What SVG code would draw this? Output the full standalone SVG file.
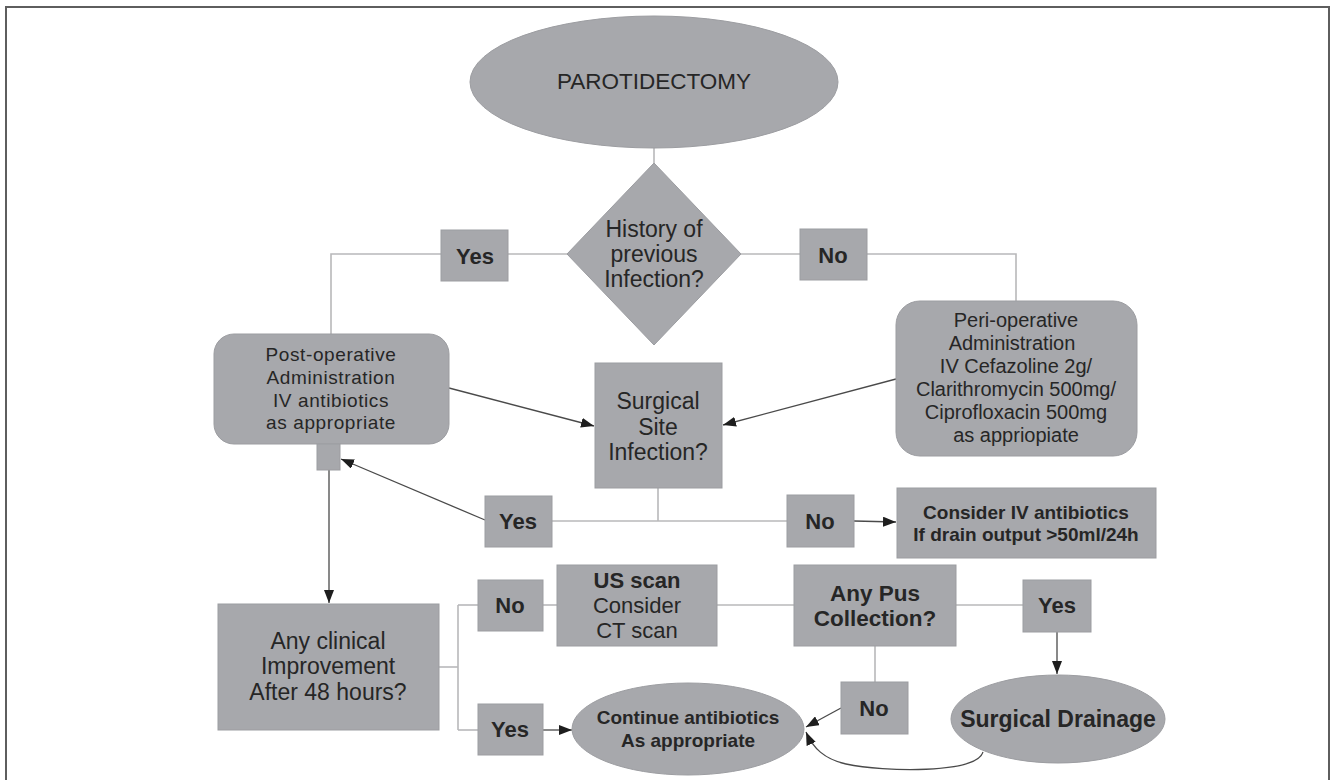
<svg xmlns="http://www.w3.org/2000/svg" width="1335" height="780" viewBox="0 0 1335 780">
<style>
.shape{fill:#a7a8ac;stroke:#9c9da1;stroke-width:1}
.t{font-family:"Liberation Sans",Arial,sans-serif;fill:#262626;text-anchor:middle}
.b{font-weight:bold}
.plain{fill:none;stroke:#b8b8ba;stroke-width:1.6}
.arr{fill:none;stroke:#4a4a4a;stroke-width:1.3;marker-end:url(#ah)}
</style>
<defs>
<marker id="ah" markerUnits="userSpaceOnUse" markerWidth="14" markerHeight="10" refX="13" refY="5" orient="auto">
<path d="M0,0 L13,5 L0,10 z" fill="#1e1e1e"/>
</marker>
</defs>
<rect x="0" y="0" width="1335" height="780" fill="#ffffff"/>
<rect x="6" y="7" width="1323" height="800" fill="none" stroke="#5e5e5e" stroke-width="2"/>

<g id="connectors">
<path class="plain" d="M654,148 V163"/>
<path class="plain" d="M567,254 H508"/>
<path class="plain" d="M441,254 H331 V334"/>
<path class="plain" d="M741,254 H800"/>
<path class="plain" d="M867,254 H1016 V301"/>
<path class="plain" d="M658,488 V521"/>
<path class="plain" d="M552,521 H787"/>
<path class="plain" d="M439,667 H458"/>
<path class="plain" d="M458,605 V730"/>
<path class="plain" d="M458,605 H478"/>
<path class="plain" d="M458,730 H478"/>
<path class="plain" d="M543,605 H557"/>
<path class="plain" d="M717,605 H794"/>
<path class="plain" d="M956,605 H1023"/>
<path class="plain" d="M875,646 V682"/>
<path class="arr" d="M449,388 L594,426"/>
<path class="arr" d="M896,379 L723,425"/>
<path class="arr" d="M485,520 L341,459"/>
<path class="arr" d="M329,470 V603"/>
<path class="arr" d="M854,521 L896,522"/>
<path class="arr" d="M543,730 H572"/>
<path class="arr" d="M1057,632 V674"/>
<path class="arr" d="M841,708 L806,727"/>
<path class="arr" d="M983,752 C976,774 884,772 846,764 C824,759 813,748 806,732"/>
</g>

<g id="n_start">
<ellipse class="shape" cx="654" cy="82" rx="184" ry="66"/>
<text class="t" x="654" y="89" font-size="22.5">PAROTIDECTOMY</text>
</g>

<g id="n_history">
<polygon class="shape" points="654,163 741,254 654,345 567,254"/>
<text class="t" x="654" y="237" font-size="23">History of</text>
<text class="t" x="654" y="262" font-size="23">previous</text>
<text class="t" x="654" y="287" font-size="23">Infection?</text>
</g>

<g id="n_yes1">
<rect class="shape" x="441" y="230" width="67" height="51"/>
<text class="t b" x="475" y="264" font-size="22">Yes</text>
</g>

<g id="n_no1">
<rect class="shape" x="800" y="229" width="67" height="51"/>
<text class="t b" x="833" y="263" font-size="22">No</text>
</g>

<g id="n_postop">
<rect class="shape" x="214" y="334" width="235" height="110" rx="20"/>
<text class="t" x="331" y="361" font-size="19" letter-spacing="0.6">Post-operative</text>
<text class="t" x="331" y="384" font-size="19" letter-spacing="0.6">Administration</text>
<text class="t" x="331" y="407" font-size="19" letter-spacing="0.6">IV antibiotics</text>
<text class="t" x="331" y="429" font-size="19" letter-spacing="0.6">as appropriate</text>
</g>

<g id="n_postop_tab">
<rect class="shape" x="317" y="444" width="23" height="26"/>
</g>

<g id="n_periop">
<rect class="shape" x="896" y="301" width="241" height="155" rx="24"/>
<text class="t" x="1016" y="327" font-size="20">Peri-operative</text>
<text class="t" x="1012" y="350" font-size="20">Administration</text>
<text class="t" x="1016" y="373" font-size="20">IV Cefazoline 2g/</text>
<text class="t" x="1016" y="396" font-size="20">Clarithromycin 500mg/</text>
<text class="t" x="1016" y="419" font-size="20">Ciprofloxacin 500mg</text>
<text class="t" x="1016" y="442" font-size="20">as appriopiate</text>
</g>

<g id="n_ssi">
<rect class="shape" x="595" y="363" width="127" height="125"/>
<text class="t" x="658" y="409" font-size="23">Surgical</text>
<text class="t" x="658" y="435" font-size="23">Site</text>
<text class="t" x="658" y="460" font-size="23">Infection?</text>
</g>

<g id="n_yes2">
<rect class="shape" x="485" y="496" width="67" height="51"/>
<text class="t b" x="518" y="529" font-size="22">Yes</text>
</g>

<g id="n_no2">
<rect class="shape" x="787" y="495" width="67" height="52"/>
<text class="t b" x="820" y="529" font-size="22">No</text>
</g>

<g id="n_consider">
<rect class="shape" x="897" y="488" width="259" height="70"/>
<text class="t b" x="1026" y="519" font-size="19">Consider IV antibiotics</text>
<text class="t b" x="1026" y="541" font-size="19">If drain output &gt;50ml/24h</text>
</g>

<g id="n_clinical">
<rect class="shape" x="218" y="604" width="221" height="126"/>
<text class="t" x="328" y="649" font-size="23">Any clinical</text>
<text class="t" x="328" y="674" font-size="23">Improvement</text>
<text class="t" x="328" y="700" font-size="23">After 48 hours?</text>
</g>

<g id="n_no3">
<rect class="shape" x="478" y="580" width="65" height="51"/>
<text class="t b" x="510" y="613" font-size="22">No</text>
</g>

<g id="n_yes3">
<rect class="shape" x="478" y="704" width="65" height="51"/>
<text class="t b" x="510" y="737" font-size="22">Yes</text>
</g>

<g id="n_us">
<rect class="shape" x="557" y="565" width="160" height="81"/>
<text class="t b" x="637" y="588" font-size="22">US scan</text>
<text class="t" x="637" y="613" font-size="22">Consider</text>
<text class="t" x="637" y="638" font-size="22">CT scan</text>
</g>

<g id="n_pus">
<rect class="shape" x="794" y="565" width="162" height="81"/>
<text class="t b" x="875" y="601" font-size="22.5">Any Pus</text>
<text class="t b" x="875" y="626" font-size="22.5">Collection?</text>
</g>

<g id="n_yes4">
<rect class="shape" x="1023" y="580" width="68" height="52"/>
<text class="t b" x="1057" y="613" font-size="22">Yes</text>
</g>

<g id="n_no4">
<rect class="shape" x="841" y="682" width="67" height="52"/>
<text class="t b" x="874" y="716" font-size="22">No</text>
</g>

<g id="n_drain">
<ellipse class="shape" cx="1058" cy="719" rx="107" ry="44"/>
<text class="t b" x="1058" y="727" font-size="23">Surgical Drainage</text>
</g>

<g id="n_continue">
<ellipse class="shape" cx="688" cy="729" rx="116" ry="46"/>
<text class="t b" x="688" y="724" font-size="19">Continue antibiotics</text>
<text class="t b" x="688" y="747" font-size="19">As appropriate</text>
</g>
</svg>
